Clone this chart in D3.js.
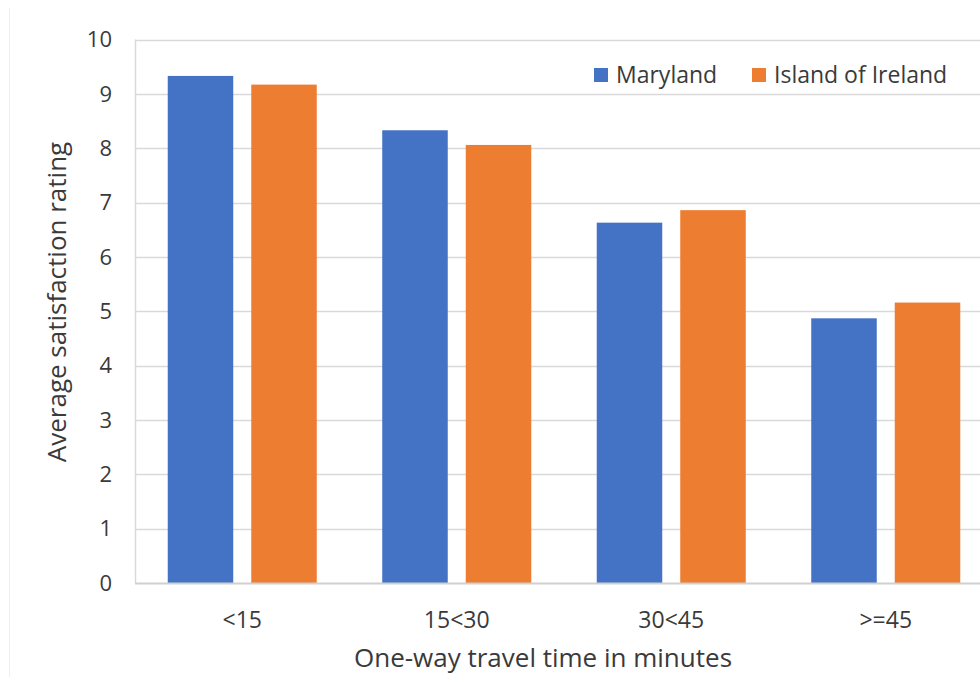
<!DOCTYPE html>
<html>
<head>
<meta charset="utf-8">
<script src="https://cdn.jsdelivr.net/npm/d3@7"></script>
<style>
html,body{margin:0;padding:0;background:#fff;}
svg{display:block;}
text{font-family:"Open Sans",sans-serif;fill:#3a3a3a;}
</style>
</head>
<body>
<svg id="chart" width="980" height="677"></svg>
<script>
const categories = ["<15", "15<30", "30<45", ">=45"];
const seriesNames = ["Maryland", "Island of Ireland"];
const maryland = [9.33, 8.33, 6.63, 4.87];
const ireland = [9.17, 8.06, 6.86, 5.16];
const yTicks = [0,1,2,3,4,5,6,7,8,9,10];
const colors = ["#4472C4", "#ED7D31"];

const svg = d3.select("#chart");
const plot = {left:135, right:993, top:39.5, bottom:583};

const x0 = d3.scaleBand().domain(categories).range([plot.left, plot.right]).paddingInner(0).paddingOuter(0);
const x1 = d3.scaleBand().domain(seriesNames).range([0, x0.bandwidth()]).paddingInner(0.2156).paddingOuter(0.392);
const y = d3.scaleLinear().domain([0,10]).range([plot.bottom, plot.top]);
const color = d3.scaleOrdinal().domain(seriesNames).range(colors);

// faint outer border
svg.append("line").attr("x1",9.5).attr("x2",9.5).attr("y1",8).attr("y2",677).attr("stroke","#eeeeee").attr("stroke-width",1);

// gridlines
svg.append("g").selectAll("line").data(yTicks.filter(d=>d>0)).join("line")
  .attr("x1",plot.left).attr("x2",plot.right)
  .attr("y1",d=>Math.round(y(d))+0.5).attr("y2",d=>Math.round(y(d))+0.5)
  .attr("stroke","#d9d9d9").attr("stroke-width",1.5);

// y axis line (left)
svg.append("line").attr("x1",plot.left+0.5).attr("x2",plot.left+0.5)
  .attr("y1",y(10)).attr("y2",y(0)).attr("stroke","#d9d9d9").attr("stroke-width",1.5);

// bars
const data = categories.map((c,i)=>({cat:c, vals:[{s:seriesNames[0], v:maryland[i]},{s:seriesNames[1], v:ireland[i]}]}));
const groups = svg.append("g").selectAll("g").data(data).join("g")
  .attr("transform", d=>`translate(${x0(d.cat)},0)`);
groups.selectAll("rect").data(d=>d.vals).join("rect")
  .attr("x", d=>x1(d.s)).attr("width", x1.bandwidth())
  .attr("y", d=>y(d.v)).attr("height", d=>y(0)-y(d.v))
  .attr("fill", d=>color(d.s));

// baseline
svg.append("line").attr("x1",plot.left).attr("x2",plot.right)
  .attr("y1",y(0)+0.5).attr("y2",y(0)+0.5).attr("stroke","#d0d0d0").attr("stroke-width",2);

// y tick labels
svg.append("g").selectAll("text").data(yTicks).join("text")
  .attr("x",112).attr("y",d=>y(d)).attr("dy","0.35em")
  .attr("text-anchor","end").attr("font-size",22).text(d=>d);

// x category labels
svg.append("g").selectAll("text").data(categories).join("text")
  .attr("x",d=>x0(d)+x0.bandwidth()/2).attr("y",620).attr("dy","0.35em")
  .attr("text-anchor","middle").attr("font-size",23).text(d=>d);

// axis titles
svg.append("text").attr("x",543).attr("y",658).attr("dy","0.35em")
  .attr("text-anchor","middle").attr("font-size",26).text("One-way travel time in minutes");
svg.append("text").attr("transform","translate(57,302) rotate(-90)").attr("dy","0.35em")
  .attr("text-anchor","middle").attr("font-size",26).text("Average satisfaction rating");

// legend
const legendItems = [{s:seriesNames[0], x:594},{s:seriesNames[1], x:752}];
const lg = svg.append("g").selectAll("g").data(legendItems).join("g")
  .attr("transform",d=>`translate(${d.x},75)`);
lg.append("rect").attr("x",0).attr("y",-7).attr("width",14).attr("height",14).attr("fill",d=>color(d.s));
lg.append("text").attr("x",22).attr("y",0).attr("dy","0.35em").attr("font-size",23).text(d=>d.s);
</script>
</body>
</html>
